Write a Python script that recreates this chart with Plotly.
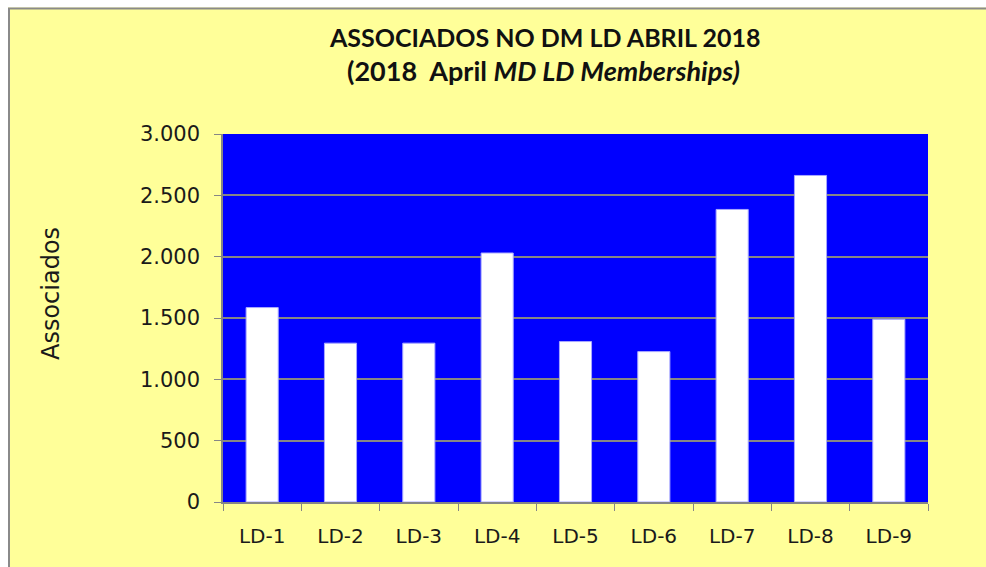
import plotly.graph_objects as go

categories = ["LD-1", "LD-2", "LD-3", "LD-4", "LD-5", "LD-6", "LD-7", "LD-8", "LD-9"]
members = [1585, 1295, 1295, 2030, 1308, 1226, 2385, 2662, 1490]
y_ticks = [0, 500, 1000, 1500, 2000, 2500, 3000]

W, H = 986, 567
L, R, T, B = 223, 58, 134, 65
PW, PH = W - L - R, H - T - B

def px(x):
    # screen x -> paper x
    return (x - L) / PW

def py(y):
    # screen y -> paper y
    return (H - B - y) / PH

YELLOW = "#FFFF99"
GRAY = "#868686"

fig = go.Figure()
fig.add_trace(go.Bar(
    x=categories, y=members, width=0.41,
    marker=dict(color="white", line=dict(color="#A8A8FF", width=1)),
))

fig.update_layout(
    width=W, height=H,
    margin=dict(l=L, r=R, t=T, b=B, pad=0),
    paper_bgcolor=YELLOW, plot_bgcolor="#0000FF",
    separators=",.",
    showlegend=False,
    font=dict(family="DejaVu Sans, Verdana", color="#1a1a1a", size=20),
    xaxis=dict(
        type="category", tickson="boundaries", ticks="outside", ticklen=7,
        tickcolor=GRAY, showline=True, linecolor=GRAY, linewidth=1.5,
        showgrid=False, tickfont=dict(size=20), ticklabelstandoff=15,
        range=[-0.5, 8.5],
    ),
    yaxis=dict(
        range=[0, 3000], tickvals=y_ticks, tickformat=",d", ticks="outside",
        ticklen=7, tickcolor=GRAY, showline=True, linecolor=GRAY, linewidth=1.5,
        showgrid=True, gridcolor=GRAY, gridwidth=1.5, zeroline=False,
        tickfont=dict(size=21), ticklabelstandoff=10,
    ),
    shapes=[
        dict(type="rect", xref="paper", yref="paper", x0=px(-5), x1=px(W + 5), y0=py(7.5), y1=py(-5),
             fillcolor="white", line=dict(width=0), layer="below"),
        dict(type="rect", xref="paper", yref="paper", x0=px(-5), x1=px(8), y0=py(H + 5), y1=py(-5),
             fillcolor="white", line=dict(width=0), layer="below"),
        dict(type="line", xref="paper", yref="paper", x0=px(8), x1=px(W + 5), y0=py(8.5), y1=py(8.5),
             line=dict(color="#8a8a8a", width=2), layer="below"),
        dict(type="line", xref="paper", yref="paper", x0=px(9), x1=px(9), y0=py(H + 5), y1=py(8),
             line=dict(color="#8a8a8a", width=2), layer="below"),
    ],
    annotations=[
        dict(text="<b>ASSOCIADOS NO DM LD ABRIL 2018</b>", xref="paper", yref="paper",
             x=px(544), y=py(37), xanchor="center", yanchor="middle", showarrow=False,
             font=dict(family="Lato, Liberation Sans", size=25, color="#111")),
        dict(text="<b>(2018  April <i>MD LD Memberships)</i></b>", xref="paper", yref="paper",
             x=px(543), y=py(71), xanchor="center", yanchor="middle", showarrow=False,
             font=dict(family="Lato, Liberation Sans", size=27, color="#111")),
        dict(text="Associados", xref="paper", yref="paper", x=px(51), y=py(294),
             xanchor="center", yanchor="middle", textangle=-90, showarrow=False,
             font=dict(size=24, color="#1a1a1a")),
    ],
)

fig.write_html(
    "out.html",
    config={"displayModeBar": False},
    post_script=(
        "document.documentElement.style.margin='0';document.body.style.margin='0';"
        "document.documentElement.style.overflow='hidden';document.body.style.overflow='hidden';"
    ),
)
